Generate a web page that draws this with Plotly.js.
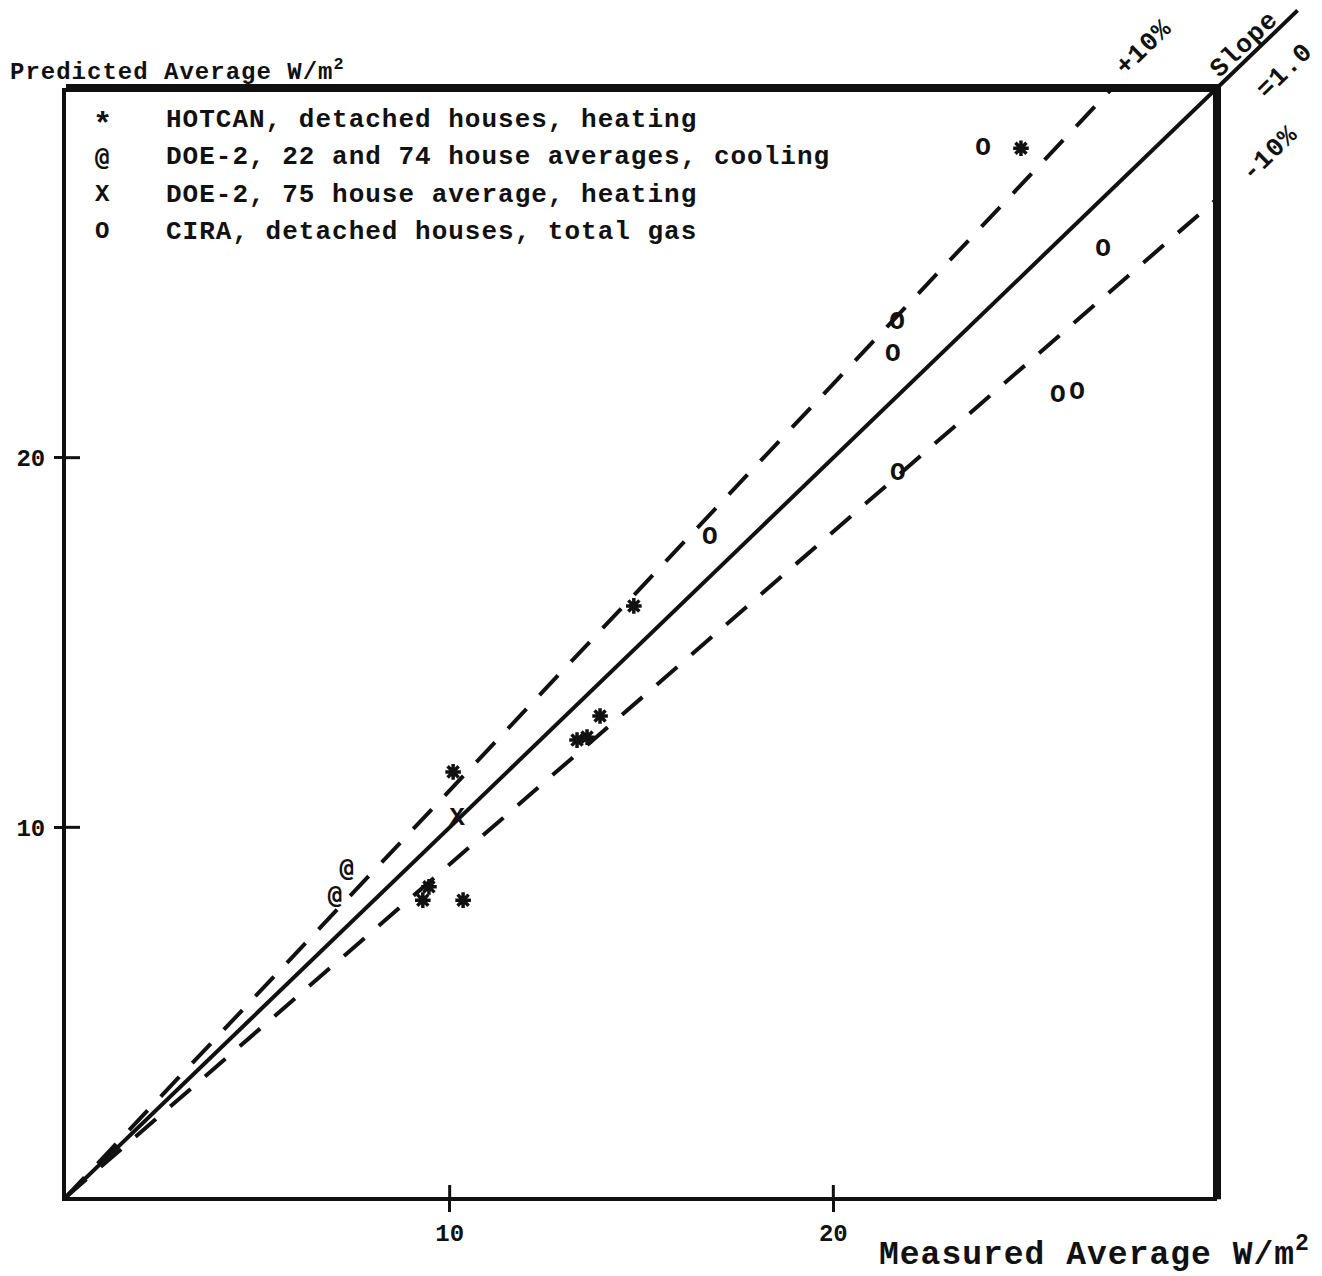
<!DOCTYPE html>
<html>
<head>
<meta charset="utf-8">
<script src="https://cdn.plot.ly/plotly-3.0.1.min.js"></script>
<style>
html, body { margin: 0; padding: 0; background: #ffffff; }
#chart { width: 1322px; height: 1276px; }
.annotation-text { letter-spacing: 1px; }
</style>
</head>
<body>
<div id="chart"></div>
<script>
// ---------------- data ----------------
const seriesNames = [
  'HOTCAN, detached houses, heating',
  'DOE-2, 22 and 74 house averages, cooling',
  'DOE-2, 75 house average, heating',
  'CIRA, detached houses, total gas'
];
const seriesSymbols = ['*', '@', 'X', 'O'];

const hotcanX = [24.89, 14.80, 13.92, 13.32, 13.58, 10.09, 9.46, 9.30, 10.35];
const hotcanY = [28.37, 15.99, 13.01, 12.36, 12.44, 11.50, 8.39, 8.03, 8.03];

const doeCoolX = [7.32, 7.01];
const doeCoolY = [8.85, 8.11];

const doeHeatX = [10.19];
const doeHeatY = [10.25];

const ciraX = [23.90, 27.03, 21.66, 21.55, 25.85, 26.35, 21.68, 16.78];
const ciraY = [28.37, 25.62, 23.67, 22.78, 21.69, 21.77, 19.58, 17.83];

const tickVals = [10, 20];
const tickText = ['10', '20'];
const axisRange = [0, 30];

const refSlopes = [1.0, 1.1, 0.9];      // slope = 1, +10 %, -10 %
const refDash = ['solid', '27px,19px', '27px,19px'];
const refX = [0, 30];

const xTitle = 'Measured Average W/m<sup>2</sup>';
const yTitle = 'Predicted Average W/m<sup>2</sup>';

// ---------------- build ----------------
const FONT = 'Liberation Mono, DejaVu Sans Mono, monospace';
const FONT_AT = 'DejaVu Sans Mono, Liberation Mono, monospace';
const INK = '#111111';

const traces = [];

refSlopes.forEach((s, i) => {
  traces.push({
    type: 'scatter', mode: 'lines',
    x: refX, y: refX.map(v => v * s),
    line: { color: INK, width: 4, dash: refDash[i] },
    showlegend: false, hoverinfo: 'skip'
  });
});

// HOTCAN: bold star marks
traces.push({
  type: 'scatter', mode: 'markers', name: seriesNames[0],
  x: hotcanX, y: hotcanY,
  marker: { symbol: 'asterisk-open', size: 13, color: INK, line: { color: INK, width: 3.5 } },
  cliponaxis: false, showlegend: false, hoverinfo: 'skip'
});

// the other series are typed characters
const textSeriesX = [doeCoolX, doeHeatX, ciraX];
const textSeriesY = [doeCoolY, doeHeatY, ciraY];
const textSize = [24, 26, 26];
const textFam = [FONT_AT, FONT, FONT];
textSeriesX.forEach((xs, k) => {
  const i = k + 1;
  traces.push({
    type: 'scatter', mode: 'text', name: seriesNames[i],
    x: xs, y: textSeriesY[k],
    text: xs.map(() => seriesSymbols[i]),
    textposition: 'middle center',
    textfont: { family: textFam[k], size: textSize[k], color: INK, weight: 'bold' },
    cliponaxis: false, showlegend: false, hoverinfo: 'skip'
  });
});

const annotations = [];

// legend, drawn as text
const legTop = 0.9711, legStep = 0.0336;
seriesNames.forEach((n, i) => {
  annotations.push({
    xref: 'paper', yref: 'paper', x: 0.0321, y: legTop - i * legStep,
    xanchor: 'center', yanchor: 'middle', showarrow: false,
    yshift: i === 0 ? -5 : 0,
    text: seriesSymbols[i],
    font: { family: i === 1 ? FONT_AT : FONT, size: i === 0 ? 32 : 24, color: INK, weight: 'bold' }
  });
  annotations.push({
    xref: 'paper', yref: 'paper', x: 0.0851, y: legTop - i * legStep,
    xanchor: 'left', yanchor: 'middle', showarrow: false,
    text: n,
    font: { family: FONT, size: 26, color: INK, weight: 'bold' }
  });
});

// axis titles
annotations.push({
  xref: 'paper', yref: 'paper', x: -0.0504, y: 1.0162,
  xanchor: 'left', yanchor: 'middle', showarrow: false,
  text: yTitle,
  font: { family: FONT, size: 24, color: INK, weight: 'bold' }
});
annotations.push({
  xref: 'paper', yref: 'paper', x: 1.0825, y: -0.0496,
  xanchor: 'right', yanchor: 'middle', showarrow: false,
  text: xTitle,
  font: { family: FONT, size: 33, color: INK, weight: 'bold' }
});

// reference-line labels
const lineLabels = [
  { t: '+10%', x: 0.9366, y: 1.0361 },
  { t: 'Slope', x: 1.0235, y: 1.0388 },
  { t: '=1.0', x: 1.0591, y: 1.0153 },
  { t: '-10%', x: 1.0460, y: 0.9405 }
];
lineLabels.forEach(l => {
  annotations.push({
    xref: 'paper', yref: 'paper', x: l.x, y: l.y,
    xanchor: 'center', yanchor: 'middle', showarrow: false,
    textangle: -44, text: l.t,
    font: { family: FONT, size: 26, color: INK, weight: 'bold' }
  });
});

// frame and crossing tick marks
const shapes = [
  { type: 'line', xref: 'paper', yref: 'paper', x0: 0, x1: 1.002, y0: 1, y1: 1, line: { color: INK, width: 8 } },
  { type: 'line', xref: 'paper', yref: 'paper', x0: 1, x1: 1, y0: -0.002, y1: 1.003, line: { color: INK, width: 8 } },
  // extension of the slope = 1 line beyond the corner
  { type: 'line', xref: 'paper', yref: 'paper', x0: 1, y0: 1, x1: 1.07, y1: 1.07, line: { color: INK, width: 4 } }
];
tickVals.forEach(v => {
  shapes.push({ type: 'line', xref: 'x', yref: 'paper', ysizemode: 'pixel', yanchor: 0,
    x0: v, x1: v, y0: 0, y1: 12, line: { color: INK, width: 3 } });
  shapes.push({ type: 'line', yref: 'y', xref: 'paper', xsizemode: 'pixel', xanchor: 0,
    y0: v, y1: v, x0: 0, x1: 14, line: { color: INK, width: 3 } });
});

const axisCommon = {
  range: axisRange, tickmode: 'array', tickvals: tickVals, ticktext: tickText,
  ticks: 'outside', tickwidth: 3, tickcolor: INK,
  showline: true, linewidth: 4, linecolor: INK,
  showgrid: false, zeroline: false, fixedrange: true,
  tickfont: { family: FONT, size: 24, color: INK, weight: 'bold' }
};

const layout = {
  width: 1322, height: 1276,
  margin: { l: 66, r: 105, t: 88, b: 79, pad: 0 },
  paper_bgcolor: '#ffffff', plot_bgcolor: '#ffffff',
  showlegend: false, hovermode: false,
  xaxis: Object.assign({}, axisCommon, { ticklen: 11, ticklabelstandoff: 0 }),
  yaxis: Object.assign({}, axisCommon, { ticklen: 8, ticklabelstandoff: 4 }),
  annotations: annotations,
  shapes: shapes
};

Plotly.newPlot('chart', traces, layout, { staticPlot: true, displayModeBar: false });
</script>
</body>
</html>
